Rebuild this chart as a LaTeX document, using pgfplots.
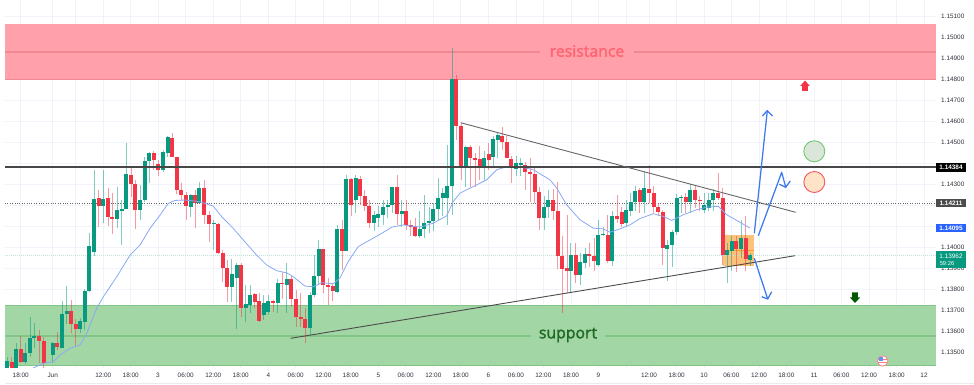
\documentclass[border=0pt]{standalone}
\usepackage{pgfplots}
\usepackage{pgfplotstable}
\usepackage{fontspec}
\setmainfont{Liberation Sans}
\newfontfamily\opensans[FakeBold=2]{Open Sans}
\pgfplotsset{compat=1.18}
\definecolor{upc}{HTML}{089981}
\definecolor{dnc}{HTML}{F23645}
\definecolor{gridc}{HTML}{F0F3FA}
\definecolor{txtc}{HTML}{2E323C}
\definecolor{bluea}{HTML}{3D78EE}
\definecolor{emac}{HTML}{8AA9F5}
\definecolor{zoner}{HTML}{FFA0AA}
\definecolor{zoneg}{HTML}{A3D6A5}
\definecolor{liner}{HTML}{F08892}
\definecolor{lineg}{HTML}{82C586}
\definecolor{orng}{HTML}{FBC27A}
\definecolor{restxt}{HTML}{FF6472}
\definecolor{suptxt}{HTML}{1F6B25}
\definecolor{lastp}{HTML}{BFE3DA}
% x = horizontal position of the hourly candle, columns: low, body low, body high, high
\pgfplotstableread{
x l bb bt h
7.3 1.13424 1.13424 1.13461 1.13481
16 1.13424 1.13424 1.13516 1.13545
25.3 1.13446 1.13456 1.13497 1.13545
30 1.13481 1.13497 1.13568 1.13668
34.3 1.13521 1.13568 1.13580 1.13643
52.7 1.13450 1.13489 1.13545 1.13553
62 1.13521 1.13521 1.13684 1.13746
66.7 1.13637 1.13684 1.13700 1.13819
80.3 1.13592 1.13611 1.13652 1.13663
84.7 1.13608 1.13648 1.13793 1.13801
89.3 1.13790 1.13793 1.14007 1.14067
94.3 1.13960 1.13979 1.14231 1.14368
103.3 1.14115 1.14197 1.14229 1.14371
117 1.14091 1.14137 1.14181 1.14286
121.7 1.14012 1.14175 1.14185 1.14226
126.3 1.14185 1.14185 1.14348 1.14495
140 1.14131 1.14178 1.14226 1.14297
144.7 1.14218 1.14226 1.14411 1.14432
149.3 1.14305 1.14411 1.14448 1.14455
163 1.14360 1.14371 1.14452 1.14463
167.7 1.14429 1.14448 1.14524 1.14530
190.7 1.14143 1.14194 1.14248 1.14257
199.3 1.14210 1.14213 1.14281 1.14313
213.7 1.13988 1.14111 1.14115 1.14131
231.7 1.13743 1.13814 1.13873 1.13944
236.7 1.13611 1.13857 1.13917 1.13925
245.7 1.13648 1.13711 1.13730 1.13822
250.3 1.13687 1.13727 1.13777 1.13822
263.7 1.13656 1.13681 1.13738 1.13774
268.3 1.13679 1.13695 1.13747 1.13774
277.7 1.13687 1.13738 1.13834 1.13853
286.7 1.13687 1.13822 1.13853 1.13928
310 1.13584 1.13617 1.13773 1.13790
314 1.13766 1.13773 1.13866 1.13964
318.7 1.13822 1.13866 1.13991 1.14036
337.3 1.13784 1.13788 1.14089 1.14108
346.3 1.13982 1.13986 1.14325 1.14343
355.7 1.14164 1.14224 1.14330 1.14343
374 1.14077 1.14119 1.14156 1.14172
378.3 1.14100 1.14140 1.14159 1.14200
383 1.14108 1.14156 1.14195 1.14227
387.7 1.14140 1.14195 1.14203 1.14227
392.3 1.14164 1.14203 1.14286 1.14290
401.7 1.14100 1.14161 1.14176 1.14227
419.7 1.14045 1.14056 1.14088 1.14172
424.3 1.14045 1.14088 1.14119 1.14248
429 1.14069 1.14116 1.14127 1.14195
433.3 1.14077 1.14127 1.14183 1.14211
438 1.14132 1.14183 1.14238 1.14330
442.7 1.14148 1.14235 1.14259 1.14283
447.3 1.14108 1.14235 1.14294 1.14488
452 1.14156 1.14294 1.14802 1.14948
465.7 1.14290 1.14384 1.14477 1.14481
484 1.14322 1.14378 1.14425 1.14457
493.3 1.14386 1.14431 1.14515 1.14528
497.7 1.14425 1.14512 1.14536 1.14544
516 1.14338 1.14373 1.14401 1.14436
520.7 1.14338 1.14393 1.14401 1.14425
544 1.14085 1.14140 1.14195 1.14243
548.3 1.14140 1.14192 1.14224 1.14275
570.7 1.13784 1.13891 1.13963 1.14021
580.3 1.13823 1.13868 1.13931 1.13974
585 1.13902 1.13929 1.13969 1.13998
598.3 1.13913 1.13915 1.14061 1.14132
603 1.14053 1.14058 1.14066 1.14100
612.3 1.13913 1.13934 1.14148 1.14172
626.3 1.14100 1.14116 1.14180 1.14224
630.7 1.14148 1.14175 1.14216 1.14259
635.3 1.14172 1.14216 1.14271 1.14294
644.3 1.14164 1.14215 1.14281 1.14362
667.3 1.13839 1.13994 1.14013 1.14037
672 1.13910 1.14013 1.14074 1.14085
676.7 1.14061 1.14074 1.14238 1.14256
681.3 1.14164 1.14238 1.14241 1.14251
690.3 1.14164 1.14215 1.14272 1.14303
704 1.14164 1.14180 1.14204 1.14259
708.7 1.14172 1.14188 1.14227 1.14259
713.3 1.14172 1.14224 1.14259 1.14278
727 1.13831 1.13963 1.13990 1.14021
731.7 1.13887 1.13982 1.14029 1.14056
741 1.13950 1.13993 1.14045 1.14132
750.3 1.13914 1.13942 1.13963 1.13974
}\upcandles
\pgfplotstableread{
x l bb bt h
11.7 1.13424 1.13424 1.13454 1.13481
20.7 1.13450 1.13456 1.13516 1.13580
39 1.13450 1.13557 1.13580 1.13608
43.7 1.13424 1.13450 1.13557 1.13576
57.3 1.13513 1.13526 1.13548 1.13600
71 1.13592 1.13635 1.13700 1.13751
75.7 1.13529 1.13611 1.13638 1.13659
98.7 1.14099 1.14197 1.14234 1.14273
108 1.14102 1.14147 1.14237 1.14281
112.3 1.14064 1.14137 1.14147 1.14261
131 1.14242 1.14300 1.14345 1.14384
135.3 1.14086 1.14178 1.14302 1.14321
153.7 1.14371 1.14416 1.14448 1.14460
158.3 1.14340 1.14371 1.14397 1.14416
172.3 1.14429 1.14429 1.14522 1.14543
176.7 1.14257 1.14273 1.14429 1.14432
181.3 1.14226 1.14250 1.14273 1.14305
186 1.14131 1.14197 1.14248 1.14265
195 1.14091 1.14213 1.14248 1.14273
204 1.14112 1.14154 1.14281 1.14321
209 1.14028 1.14110 1.14154 1.14175
218 1.13969 1.13972 1.14112 1.14118
222.7 1.13838 1.13901 1.13972 1.13988
227 1.13743 1.13814 1.13901 1.13941
241 1.13671 1.13711 1.13917 1.13925
254.7 1.13711 1.13743 1.13779 1.13785
259.3 1.13648 1.13652 1.13744 1.13782
273 1.13695 1.13738 1.13747 1.13751
282.3 1.13758 1.13825 1.13834 1.13885
291.3 1.13719 1.13754 1.13853 1.13869
296 1.13624 1.13668 1.13754 1.13798
300.7 1.13624 1.13662 1.13668 1.13782
305.3 1.13545 1.13617 1.13662 1.13711
323.3 1.13784 1.13822 1.13991 1.13991
328 1.13728 1.13815 1.13823 1.13855
332.7 1.13744 1.13792 1.13818 1.13831
342 1.13894 1.13983 1.14089 1.14132
351 1.14148 1.14203 1.14325 1.14330
360 1.14203 1.14243 1.14325 1.14338
364.7 1.14172 1.14199 1.14246 1.14275
369.3 1.14092 1.14116 1.14199 1.14227
397 1.14108 1.14161 1.14286 1.14343
406 1.14085 1.14107 1.14173 1.14227
410.7 1.14056 1.14100 1.14105 1.14132
415.3 1.14050 1.14053 1.14100 1.14140
456.3 1.14512 1.14579 1.14802 1.14821
461 1.14322 1.14384 1.14579 1.14591
470.3 1.14290 1.14425 1.14477 1.14488
475 1.14290 1.14417 1.14427 1.14449
479.7 1.14322 1.14378 1.14420 1.14481
488.7 1.14370 1.14414 1.14444 1.14496
502.3 1.14465 1.14500 1.14531 1.14571
506.7 1.14424 1.14424 1.14500 1.14528
511.3 1.14306 1.14378 1.14420 1.14436
525.3 1.14275 1.14357 1.14393 1.14405
530 1.14219 1.14351 1.14357 1.14425
534.7 1.14211 1.14264 1.14351 1.14378
539.3 1.14085 1.14140 1.14264 1.14290
553 1.14132 1.14176 1.14224 1.14278
557.7 1.13898 1.13961 1.14176 1.14310
562.3 1.13689 1.13899 1.13961 1.14053
567 1.13784 1.13891 1.13902 1.14156
575.7 1.13831 1.13868 1.13963 1.14021
589.3 1.13910 1.13958 1.13969 1.14021
594 1.13891 1.13934 1.13958 1.14045
607.7 1.13926 1.13934 1.14061 1.14156
617 1.14116 1.14135 1.14148 1.14251
621.7 1.14100 1.14113 1.14169 1.14195
639.7 1.14164 1.14216 1.14272 1.14283
649 1.14211 1.14259 1.14280 1.14394
653.7 1.14164 1.14191 1.14259 1.14291
658.3 1.14151 1.14170 1.14191 1.14211
662.7 1.13918 1.13998 1.14170 1.14180
685.7 1.14164 1.14215 1.14240 1.14259
695 1.14188 1.14227 1.14275 1.14291
699.7 1.14172 1.14224 1.14227 1.14243
718 1.14227 1.14238 1.14259 1.14354
722.7 1.13918 1.13963 1.14238 1.14283
736.3 1.13882 1.13993 1.14029 1.14053
745.7 1.13891 1.13945 1.14045 1.14148
}\downcandles
\pgfplotstableread{
x y
31.7 1.13424
43.3 1.13450
53.3 1.13458
60 1.13489
70 1.13521
80 1.13537
86.7 1.13592
96.7 1.13711
103.3 1.13766
116.7 1.13861
130 1.13964
140 1.14012
150 1.14091
160 1.14154
168.3 1.14210
175 1.14224
185 1.14226
200 1.14218
213.3 1.14197
221.7 1.14147
233.3 1.14091
243.3 1.14036
256.7 1.13964
266.7 1.13917
276.7 1.13890
286.7 1.13880
293.3 1.13861
305 1.13817
313.3 1.13814
321.7 1.13833
333.3 1.13828
340 1.13855
348.3 1.13934
358.3 1.14005
373.3 1.14045
385 1.14077
391.7 1.14097
403.3 1.14108
420 1.14097
433.3 1.14116
446.7 1.14151
453.3 1.14219
460 1.14259
473.3 1.14290
486.7 1.14322
496.7 1.14370
506.7 1.14384
520 1.14384
533.3 1.14370
550 1.14322
556.7 1.14283
566.7 1.14203
580 1.14132
593.3 1.14092
603.3 1.14089
610 1.14073
620 1.14089
630 1.14108
640 1.14138
653.3 1.14161
663.3 1.14148
671.7 1.14129
683.3 1.14156
696.7 1.14180
706.7 1.14192
718.3 1.14196
726.7 1.14156
740 1.14120
750 1.14093
}\ema
\pgfplotsset{
  wick/.style={draw=none, mark=none, forget plot,
    error bars/.cd, y dir=plus, y explicit, error mark=none,
    error bar style={line width=1pt, color=#1, opacity=0.5}},
  body/.style={draw=none, mark=none, forget plot,
    error bars/.cd, y dir=plus, y explicit, error mark=none,
    error bar style={line width=3.8pt, color=#1}},
}
\begin{document}
\begin{tikzpicture}
\path[use as bounding box] (0,0) rectangle (974pt,385pt);
\begin{axis}[
  at={(5pt,17pt)}, anchor=south west,
  scale only axis, width=931pt, height=368pt,
  xmin=5, xmax=936, ymin=1.134277, ymax=1.151767,
  axis line style={draw=none},
  clip mode=individual,
  major tick length=0pt,
  grid=major,
  grid style={gridc, line width=0.6pt},
  xtick={20.7,52.7,75.7,103.3,130.7,158,185.7,213.3,240.7,268.3,295.7,323.3,350.7,378.3,405.7,433.3,460.7,488.3,516,543.3,571,598.3,626,649,676.7,704,731.3,759,786.3,814,841.3,869,896.7,924},
  xticklabels={18:00,Jun,{},12:00,18:00,3,06:00,12:00,18:00,4,06:00,12:00,18:00,5,06:00,12:00,18:00,6,06:00,12:00,18:00,9,{},12:00,18:00,10,06:00,12:00,18:00,11,06:00,12:00,18:00,12},
  xticklabel style={font=\fontsize{6.4}{7}\selectfont, text=txtc, inner sep=0pt, anchor=center, yshift=-7.5pt},
  ytick={1.135,1.136,1.137,1.138,1.139,1.14,1.141,1.142,1.143,1.144,1.145,1.146,1.147,1.148,1.149,1.15,1.151},
  yticklabels={1.13500,1.13600,1.13700,1.13800,1.13900,1.14000,{},{},1.14300,{},1.14500,1.14600,1.14700,1.14800,1.14900,1.15000,1.15100},
  yticklabel pos=right,
  yticklabel style={font=\fontsize{6.4}{7}\selectfont, text=txtc, anchor=west, inner sep=0pt, xshift=5pt},
]
% zones
\addplot[draw=none, fill=zoner, forget plot] coordinates {(5,1.147965)(936,1.147965)(936,1.150626)(5,1.150626)} -- cycle;
\addplot[draw=none, fill=zoneg, forget plot] coordinates {(5,1.134372)(936,1.134372)(936,1.137247)(5,1.137247)} -- cycle;
\addplot[liner, line width=1pt, forget plot] coordinates {(5,1.147965)(936,1.147965)};
\addplot[lineg, line width=1pt, forget plot] coordinates {(5,1.134372)(936,1.134372)};
\addplot[lineg, line width=0.8pt, forget plot] coordinates {(5,1.137247)(936,1.137247)};
\addplot[liner, line width=1.1pt, forget plot] coordinates {(5,1.149296)(540,1.149296)};
\addplot[liner, line width=1.1pt, forget plot] coordinates {(634,1.149296)(936,1.149296)};
\addplot[lineg, line width=1.1pt, forget plot] coordinates {(5,1.135797)(531,1.135797)};
\addplot[lineg, line width=1.1pt, forget plot] coordinates {(605,1.135797)(936,1.135797)};
% order box
\addplot[draw=none, fill=orng, forget plot] coordinates {(722.7,1.13914)(754,1.13914)(754,1.14060)(722.7,1.14060)} -- cycle;
\addplot[orange!60!orng, line width=0.5pt, forget plot] coordinates {(722.7,1.13987)(754,1.13987)};
% price lines
\addplot[lastp, dash pattern=on 1pt off 1pt, line width=0.9pt, forget plot] coordinates {(5,1.13962)(936,1.13962)};
\addplot[black!60, dash pattern=on 1pt off 1.4pt, line width=0.9pt, forget plot] coordinates {(5,1.14211)(936,1.14211)};
% candles
\addplot[wick=upc] table[x=x, y=l, y error plus expr=\thisrow{h}-\thisrow{l}] {\upcandles};
\addplot[wick=dnc] table[x=x, y=l, y error plus expr=\thisrow{h}-\thisrow{l}] {\downcandles};
\addplot[body=upc] table[x=x, y=bb, y error plus expr=\thisrow{bt}-\thisrow{bb}] {\upcandles};
\addplot[body=dnc] table[x=x, y=bb, y error plus expr=\thisrow{bt}-\thisrow{bb}] {\downcandles};
% EMA
\addplot[emac, line width=0.8pt, forget plot] table[x=x, y=y] {\ema};
% levels and trend lines
\addplot[black!72, line width=1.5pt, forget plot] coordinates {(5,1.14384)(936,1.14384)};
\addplot[black!60, line width=0.9pt, forget plot] coordinates {(460.7,1.145935)(795.7,1.141677)};
\addplot[black!70, line width=0.9pt, forget plot] coordinates {(290.7,1.135688)(795,1.139614)};
\end{axis}
% annotations, in pixel coordinates of the picture
\begin{scope}[x=1pt, y=-1pt, yshift=385pt]
\node[text=restxt, font=\opensans\fontsize{15.8}{18}\selectfont] at (587,51) {resistance};
\node[text=suptxt, font=\opensans\fontsize{15.8}{18}\selectfont] at (568,335) {support};
% blue scenario arrows
\draw[bluea, line width=1.25pt, line join=round] (754.3,233.3) -- (767.3,110.7);
\draw[bluea, line width=1.25pt, line join=round] (762.3,116) -- (767.3,110.7) -- (772.6,116);
\draw[bluea, line width=1.25pt, line join=round] (758.3,235.7) -- (781.7,172.3) -- (785.7,187.3) -- (790.3,181);
\draw[bluea, line width=1.25pt] (779.3,184.3) -- (785.7,187.3);
\draw[bluea, line width=1.25pt, line join=round] (754.3,258.3) -- (767.7,299);
\draw[bluea, line width=1.25pt, line join=round] (761.7,296.7) -- (767.7,299) -- (771.7,291.7);
% circles
\draw[green!60!black!55!white, line width=0.9pt, fill=green!20!gray!25!white] (814.3,151.3) circle (10.5);
\draw[dnc!85, line width=0.9pt, fill=orange!22!white] (814.3,182) circle (10.5);
% block arrows
\fill[dnc] (805,80.5) -- (809.8,86) -- (807.8,86) -- (807.8,91) -- (802.2,91) -- (802.2,86) -- (800.2,86) -- cycle;
\fill[green!35!black] (855,303) -- (860,297.5) -- (857.8,297.5) -- (857.8,292.3) -- (852.2,292.3) -- (852.2,297.5) -- (850,297.5) -- cycle;
% flag
\fill[dnc!60] (882.7,361) circle (5.6);
\fill[white] (882.7,361) circle (4.6);
\fill[dnc!65] (878.3,359.4) rectangle (887.1,360.2);
\fill[dnc!65] (878.3,361.6) rectangle (887.1,362.4);
\fill[bluea!80] (878.6,357.3) rectangle (883.3,360.8);
% right-hand price tags
\fill[black] (936,163) rectangle (966,172);
\node[text=white, font=\fontsize{6.4}{7}\selectfont\bfseries] at (951,167.5) {1.14384};
\fill[black!70] (936,199.5) rectangle (966,207.5);
\node[text=white, font=\fontsize{6.4}{7}\selectfont\bfseries] at (951,203.5) {1.14211};
\definecolor{tagb}{HTML}{2962FF}
\fill[tagb] (936,224.5) rectangle (966,232.5);
\node[text=white, font=\fontsize{6.4}{7}\selectfont\bfseries] at (951,228.5) {1.14095};
\fill[upc] (936,251.5) rectangle (966,268);
\node[text=white, font=\fontsize{6.4}{7}\selectfont] at (951,256) {1.13962};
\node[text=white, font=\fontsize{5.8}{7}\selectfont] at (947,263.3) {59:26};
% frame rule under the time scale
\draw[black!8, line width=0.6pt] (5,383) -- (974,383);
\end{scope}
\end{tikzpicture}
\end{document}
